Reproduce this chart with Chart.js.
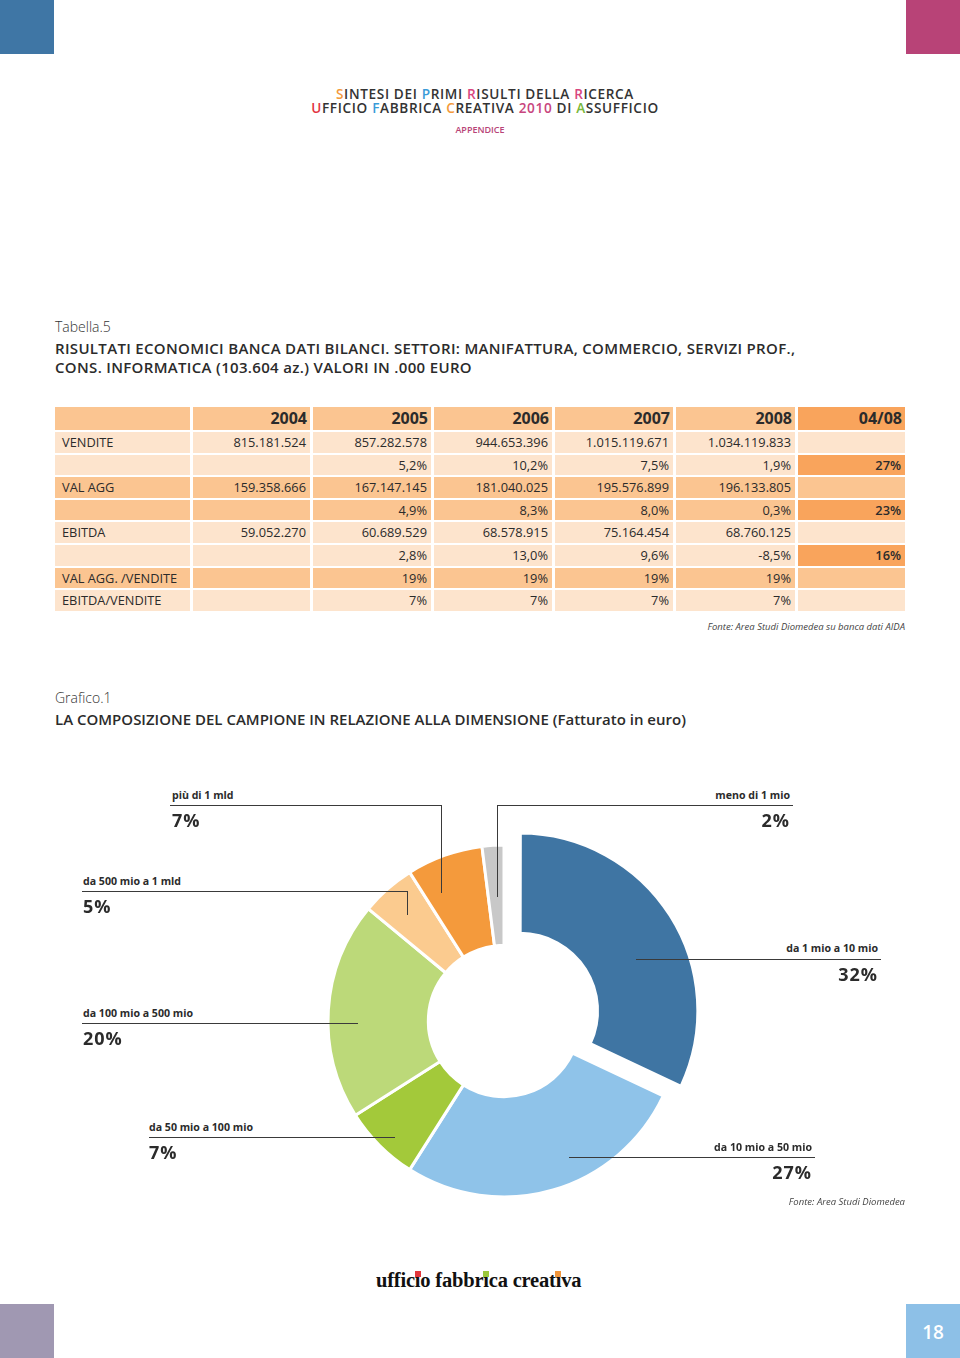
<!DOCTYPE html>
<html>
<head>
<meta charset="utf-8">
<script src="https://cdn.jsdelivr.net/npm/chart.js@4/dist/chart.umd.min.js"></script>
<style>
  body { margin: 0; background: #fff; }
  #page { position: relative; width: 960px; height: 1358px; overflow: hidden; font-family: "Open Sans", sans-serif; color: #2b2b2b; }
  .abs { position: absolute; white-space: nowrap; }
  .corner { position: absolute; width: 54px; height: 54px; }
  .head { left: 0; width: 970px; height: 13px; text-align: center; font-size: 13.6px; font-weight: 600; letter-spacing: 0.65px; line-height: 13px; color: #333; }
  .head span { display: inline-block; line-height: 13px; height: 13px; }
  .title { left: 55px; font-size: 15px; font-weight: 600; line-height: 19px; }
  .cap { left: 55px; font-size: 14px; font-weight: 300; color: #333; }
  .fonte { font-size: 9.5px; font-style: italic; color: #444; text-align: right; }
  #table { position: absolute; left: 55px; top: 407px; display: grid;
    grid-template-columns: 135px 117px 118px 118px 118px 119px 107px;
    grid-template-rows: 23px repeat(8, 20.6px); gap: 2px 3px; font-size: 12.8px; }
  #table div { text-align: right; padding-right: 4px; line-height: 20.6px; }
  #table div.lab { text-align: left; padding-left: 7px; }
  #table div.yr { font-weight: 700; font-size: 16px; line-height: 23px; padding-right: 3px; }
  .ld { position: absolute; font-size: 10.6px; font-weight: 700; white-space: nowrap; }
  .pc { position: absolute; font-size: 18px; font-weight: 700; letter-spacing: 1px; white-space: nowrap; }
  .hl { position: absolute; height: 1px; background: #3a3a3a; }
  .vl { position: absolute; width: 1px; background: #3a3a3a; }
  #chartBox { position: absolute; left: 304px; top: 821px; width: 400px; height: 400px; }
  .logo { left: 376px; top: 1266px; font-family: "Liberation Serif", serif; font-weight: 700; font-size: 20.5px; letter-spacing: -0.2px; line-height: 28px; color: #111; }
  .dot { position: relative; display: inline-block; }
  .dot::before { content: ""; position: absolute; left: 50%; margin-left: -3px; top: 5px; width: 6px; height: 6px; }
  .dr::before { background: #e2373c; }
  .dg::before { background: #9cc83c; }
  .do::before { background: #f2963a; }
</style>
</head>
<body>
<div id="page">
  <div class="corner" style="left:0;top:0;background:#3f76a5"></div>
  <div class="corner" style="left:906px;top:0;background:#b84377"></div>
  <div class="corner" style="left:0;top:1304px;background:#a098b2"></div>
  <div class="corner" style="left:906px;top:1304px;background:#8dc0e7;color:#fff;font-size:19px;font-weight:600;text-align:center;line-height:56px">18</div>

  <div class="abs head" style="top:87px"><span style="color:#f39a3b">S</span>INTESI DEI <span style="color:#3a9bd8">P</span>RIMI <span style="color:#d8467f">R</span>ISULTI DELLA <span style="color:#d8467f">R</span>ICERCA</div>
  <div class="abs head" style="top:101px"><span style="color:#e2333f">U</span>FFICIO <span style="color:#3a9bd8">F</span>ABBRICA <span style="color:#f39a3b">C</span>REATIVA <span style="color:#c8457e">2010</span> DI <span style="color:#79b83a">A</span>SSUFFICIO</div>
  <div class="abs" style="left:0;width:960px;text-align:center;top:123px;font-size:9px;font-weight:600;color:#b84377">APPENDICE</div>

  <div class="abs cap" style="top:317px">Tabella.5</div>
  <div class="abs title" style="top:339px;letter-spacing:0.33px">RISULTATI ECONOMICI BANCA DATI BILANCI. SETTORI: MANIFATTURA, COMMERCIO, SERVIZI PROF.,<br>CONS. INFORMATICA (103.604 az.) VALORI IN .000 EURO</div>

  <div id="table"></div>
  <div class="abs fonte" style="right:55px;top:620px">Fonte: Area Studi Diomedea su banca dati AIDA</div>

  <div class="abs cap" style="top:688px">Grafico.1</div>
  <div class="abs title" style="top:710px">LA COMPOSIZIONE DEL CAMPIONE IN RELAZIONE ALLA DIMENSIONE (Fatturato in euro)</div>

  <div id="chartBox"><canvas id="donut" width="400" height="400"></canvas></div>
  <div id="labels"></div>

  <div class="abs fonte" style="right:55px;top:1195px">Fonte: Area Studi Diomedea</div>

  <div class="abs logo">uffic<span class="dot dr">ı</span>o fabbr<span class="dot dg">ı</span>ca creat<span class="dot do">ı</span>va</div>
</div>

<script>
// Tabella.5
const years = ['2004', '2005', '2006', '2007', '2008'];
const rowLabels = ['VENDITE', '', 'VAL AGG', '', 'EBITDA', '', 'VAL AGG. /VENDITE', 'EBITDA/VENDITE'];
const vendite = ['815.181.524', '857.282.578', '944.653.396', '1.015.119.671', '1.034.119.833'];
const venditeVar = ['', '5,2%', '10,2%', '7,5%', '1,9%'];
const valAgg = ['159.358.666', '167.147.145', '181.040.025', '195.576.899', '196.133.805'];
const valAggVar = ['', '4,9%', '8,3%', '8,0%', '0,3%'];
const ebitda = ['59.052.270', '60.689.529', '68.578.915', '75.164.454', '68.760.125'];
const ebitdaVar = ['', '2,8%', '13,0%', '9,6%', '-8,5%'];
const valAggSuVendite = ['', '19%', '19%', '19%', '19%'];
const ebitdaSuVendite = ['', '7%', '7%', '7%', '7%'];
const var0408 = ['', '27%', '', '23%', '', '16%', '', ''];

// Grafico.1
const classi = ['da 1 mio a 10 mio', 'da 10 mio a 50 mio', 'da 50 mio a 100 mio', 'da 100 mio a 500 mio',
  'da 500 mio a 1 mld', 'più di 1 mld', 'meno di 1 mio'];
const quote = [32, 27, 7, 20, 5, 7, 2];
const coloriQuote = ['#3f75a3', '#8fc3e9', '#a3c93a', '#bcd979', '#fbcb8f', '#f49a3c', '#c8c8c8'];

const LIGHT = '#fde4cd', DARK = '#fbc591', ACCENT = '#f9a45c';
const rowShade = [LIGHT, LIGHT, DARK, DARK, LIGHT, LIGHT, DARK, LIGHT];
const rows = [vendite, venditeVar, valAgg, valAggVar, ebitda, ebitdaVar, valAggSuVendite, ebitdaSuVendite];

const table = document.getElementById('table');
function cell(text, cls, bg) {
  const d = document.createElement('div');
  d.textContent = text;
  if (cls) d.className = cls;
  d.style.background = bg;
  table.appendChild(d);
  return d;
}
cell('', 'yr', DARK);
years.forEach(y => cell(y, 'yr', DARK));
cell('04/08', 'yr', ACCENT);
rows.forEach((vals, i) => {
  cell(rowLabels[i], 'lab', rowShade[i]);
  vals.forEach(v => cell(v, '', rowShade[i]));
  const c = cell(var0408[i], '', var0408[i] ? ACCENT : rowShade[i]);
  if (var0408[i]) c.style.fontWeight = '600';
});

// leader labels: [index, textX, textY, align, line x1, x2, y, drop x, drop y2]
const callouts = [
  [5, 172, 788, 'l', 170, 442, 805, 441, 893],
  [6, 0, 788, 'r', 497, 793, 805, 497, 897],
  [4, 83, 874, 'l', 82, 408, 891, 407, 915],
  [0, 0, 941, 'r', 636, 881, 959, 0, 0],
  [3, 83, 1006, 'l', 82, 358, 1023, 0, 0],
  [2, 149, 1120, 'l', 149, 395, 1137, 0, 0],
  [1, 0, 1140, 'r', 569, 815, 1157, 0, 0]
];
const lab = document.getElementById('labels');
callouts.forEach(([i, tx, ty, al, x1, x2, ly, vx, vy]) => {
  const t = document.createElement('div');
  t.className = 'ld';
  const p = document.createElement('div');
  p.className = 'pc';
  t.textContent = classi[i];
  p.textContent = quote[i] + '%';
  t.style.top = ty + 'px';
  p.style.top = (ly + 3) + 'px';
  if (al === 'l') {
    t.style.left = tx + 'px';
    p.style.left = tx + 'px';
  } else {
    t.style.right = (960 - x2 + 3) + 'px';
    p.style.right = (960 - x2 + 3) + 'px';
  }
  const h = document.createElement('div');
  h.className = 'hl';
  h.style.left = x1 + 'px';
  h.style.width = (x2 - x1) + 'px';
  h.style.top = ly + 'px';
  lab.appendChild(t);
  lab.appendChild(p);
  lab.appendChild(h);
  if (vx) {
    const v = document.createElement('div');
    v.className = 'vl';
    v.style.left = vx + 'px';
    v.style.top = ly + 'px';
    v.style.height = (vy - ly) + 'px';
    lab.appendChild(v);
  }
});

new Chart(document.getElementById('donut'), {
  type: 'doughnut',
  data: {
    labels: classi,
    datasets: [{
      data: quote,
      backgroundColor: coloriQuote,
      borderColor: '#fff',
      borderWidth: 3,
      offset: quote.map((q, i) => i === 0 ? 76 : 0)
    }]
  },
  options: {
    responsive: false,
    animation: false,
    events: [],
    radius: 176,
    cutout: '43%',
    layout: { padding: 0 },
    plugins: { legend: { display: false }, tooltip: { enabled: false } }
  }
});
</script>
</body>
</html>
